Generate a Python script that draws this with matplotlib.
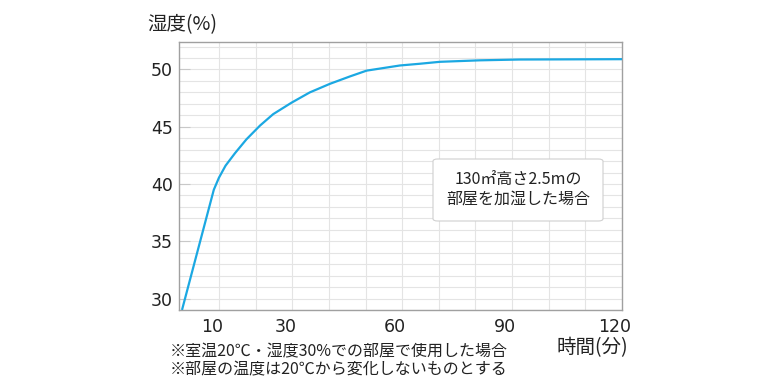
import numpy as np
import matplotlib.pyplot as plt
from matplotlib.transforms import ScaledTranslation
from matplotlib.patches import FancyBboxPatch

plt.rcParams['font.family'] = ['Noto Sans CJK JP', 'DejaVu Sans']

# 経過時間(分) と 湿度(%)
minutos = [0, 8.6, 10, 11.8, 14.4, 17.5, 21.2, 24.8, 29.8, 34.8, 40.3, 45.8,
           50.3, 59.4, 64.8, 70.3, 81.2, 92, 120]
humedad = [29.1, 39.5, 40.55, 41.6, 42.7, 43.9, 45.1, 46.1, 47.1, 48.0, 48.75,
           49.4, 49.9, 50.35, 50.5, 50.67, 50.8, 50.87, 50.9]

xticks = [10, 30, 60, 90, 120]
yticks = [30, 35, 40, 45, 50]

fig = plt.figure(figsize=(7.8, 3.85), dpi=100)
ax = fig.add_axes([179 / 780, 1 - 310 / 385, 443 / 780, 268 / 385])

# grilla fina
for x in range(10, 120, 10):
    ax.axvline(x, color='#e4e4e4', lw=0.8, zorder=0)
for y in range(29, 53):
    ax.axhline(y, color='#e4e4e4', lw=0.8, zorder=0)

ax.plot(minutos, humedad, color='#1ba8e2', lw=1.6, zorder=3)

ax.set_xlim(-0.9, 120)
ax.set_ylim(29, 52.4)
ax.set_xticks(xticks)
ax.set_yticks(yticks)
ax.tick_params(axis='x', length=0, pad=5.5, labelsize=12.5, labelcolor='#222222')
ax.tick_params(axis='y', direction='in', length=8, color='#c8c8c8', pad=4.5,
               labelsize=12.5, labelcolor='#222222')
for lab in ax.get_xticklabels() + ax.get_yticklabels():
    lab.set_family(['DejaVu Sans'])
for lab in ax.get_xticklabels():
    lab.set_transform(lab.get_transform() + ScaledTranslation(-7 / 100, 0, fig.dpi_scale_trans))
for s in ax.spines.values():
    s.set_color('#a0a0a0')
    s.set_linewidth(1)

# cuadro de texto
caja = FancyBboxPatch((433 / 780, 1 - 221 / 385), 170 / 780, 62 / 385,
                      boxstyle='round,pad=0,rounding_size=0.006',
                      transform=fig.transFigure, facecolor='white',
                      edgecolor='#d0d0d0', lw=0.8, zorder=5)
fig.patches.append(caja)
fig.text(518 / 780, 1 - 180 / 385, '130㎡高さ2.5mの', ha='center', va='center',
         fontsize=11.5, color='#222222', zorder=6)
fig.text(518 / 780, 1 - 199.5 / 385, '部屋を加湿した場合', ha='center', va='center',
         fontsize=11.5, color='#222222', zorder=6)

fig.text(147 / 780, 1 - 25 / 385, '湿度(%)', ha='left', va='center', fontsize=14, color='#222222')
fig.text(628 / 780, 1 - 348 / 385, '時間(分)', ha='right', va='center', fontsize=14, color='#222222')

fig.text(170 / 780, 1 - 352 / 385, '※室温20℃・湿度30%での部屋で使用した場合',
         ha='left', va='center', fontsize=11.5, color='#222222')
fig.text(170 / 780, 1 - 370 / 385, '※部屋の温度は20℃から変化しないものとする',
         ha='left', va='center', fontsize=11.5, color='#222222')

fig.savefig('out.png', dpi=100, facecolor='white')
